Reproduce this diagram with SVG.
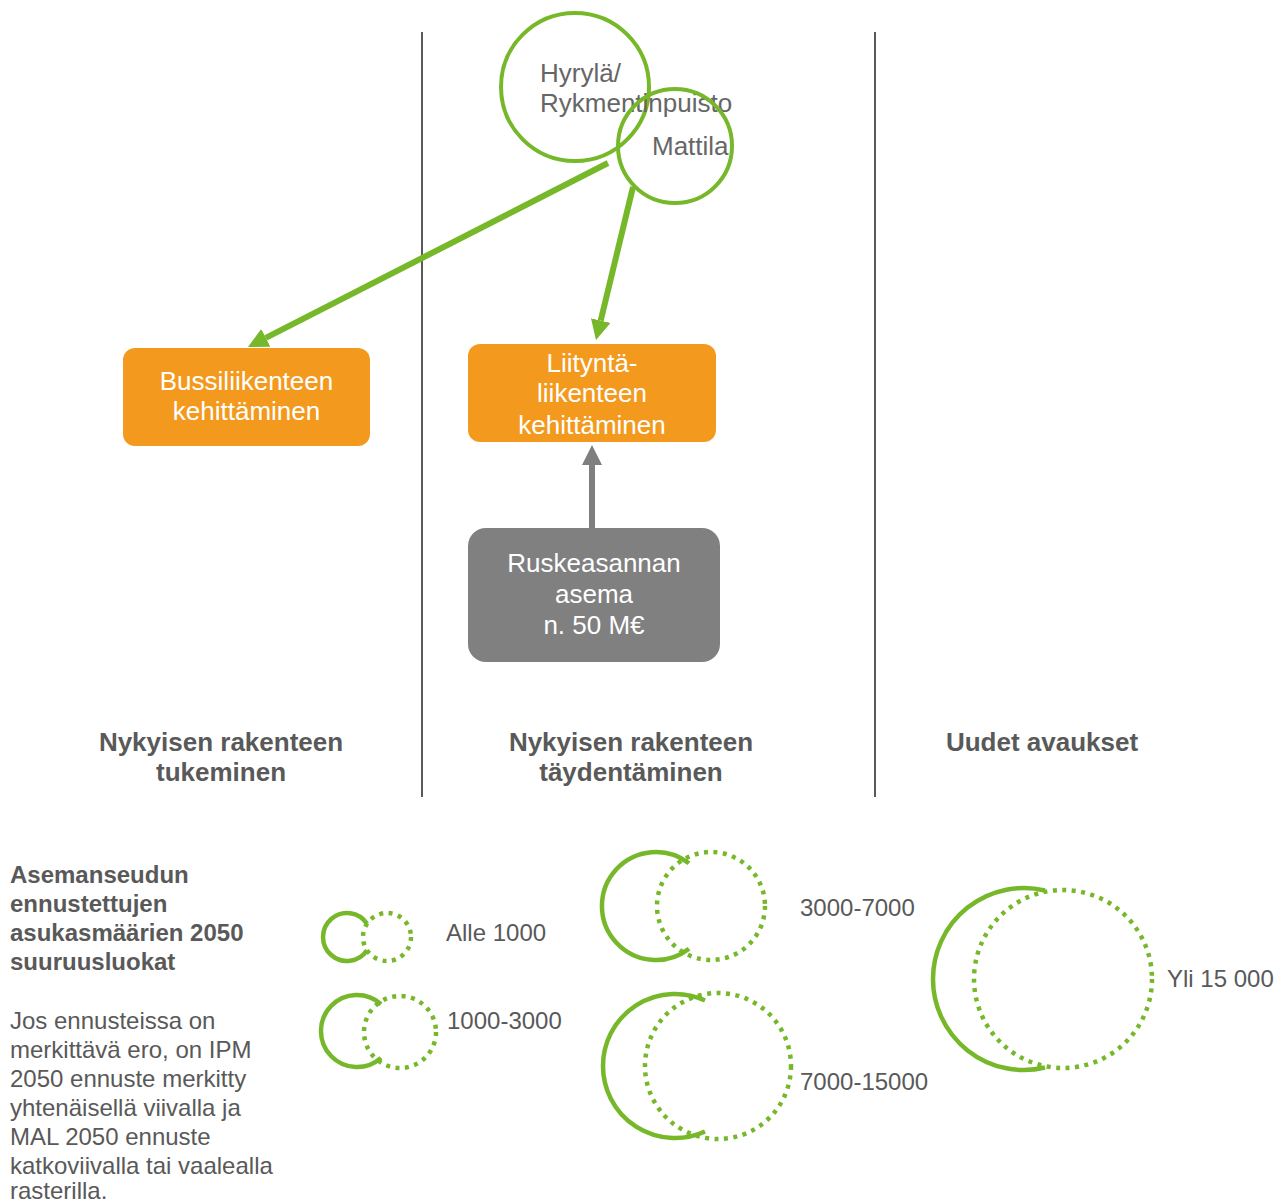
<svg xmlns="http://www.w3.org/2000/svg" width="1288" height="1204" viewBox="0 0 1288 1204">
  <defs>
    <style>
      .t { font-family: "Liberation Sans", Arial, sans-serif; fill: #595959; }
      .b { font-weight: bold; }
      .w { fill: #ffffff; font-family: "Liberation Sans", Arial, sans-serif; font-size: 26px; }
      .sep { stroke: #595959; stroke-width: 2; }
      .ring { fill: none; stroke: #76b82a; stroke-width: 4; }
      .dots { fill: none; stroke: #76b82a; stroke-width: 4.5; stroke-dasharray: 4 5.5; }
      .arc { fill: none; stroke: #76b82a; stroke-width: 4.5; }
      .orange { fill: #f39a1e; }
      .grey { fill: #808080; }
    </style>
    <marker id="headGreen" viewBox="0 0 20 20" markerWidth="20" markerHeight="20" markerUnits="userSpaceOnUse" refX="0" refY="10" orient="auto">
      <path d="M0,0 L20,10 L0,20 Z" fill="#76b82a"/>
    </marker>
    <marker id="headGrey" viewBox="0 0 20 20" markerWidth="20" markerHeight="20" markerUnits="userSpaceOnUse" refX="0" refY="10" orient="auto">
      <path d="M0,0 L20,10 L0,20 Z" fill="#7f7f7f"/>
    </marker>
  </defs>

  <rect width="1288" height="1204" fill="#ffffff"/>

  <!-- column separators -->
  <line class="sep" x1="422" y1="32" x2="422" y2="797"/>
  <line class="sep" x1="875" y1="32" x2="875" y2="797"/>

  <!-- connectors -->
  <g id="connectors">
    <line x1="608" y1="163" x2="265.8" y2="337.9" stroke="#76b82a" stroke-width="6" marker-end="url(#headGreen)"/>
    <line x1="633" y1="187" x2="600.7" y2="320.6" stroke="#76b82a" stroke-width="6" marker-end="url(#headGreen)"/>
    <line x1="592" y1="528" x2="592" y2="465" stroke="#7f7f7f" stroke-width="6" marker-end="url(#headGrey)"/>
  </g>

  <!-- station areas -->
  <g id="node-hyryla">
    <circle class="ring" cx="575" cy="87" r="74"/>
    <text class="t" font-size="26" x="540" y="82" style="fill:#666">Hyrylä/</text>
    <text class="t" font-size="26" x="540" y="112" style="fill:#666">Rykmentinpuisto</text>
  </g>
  <g id="node-mattila">
    <circle class="ring" cx="675" cy="146" r="57"/>
    <text class="t" font-size="26" x="652" y="155" style="fill:#666">Mattila</text>
  </g>

  <!-- measure boxes -->
  <g id="node-bussi">
    <rect class="orange" x="123" y="348" width="247" height="98" rx="12"/>
    <text class="w" x="246.5" y="390" text-anchor="middle">Bussiliikenteen</text>
    <text class="w" x="246.5" y="420" text-anchor="middle">kehittäminen</text>
  </g>
  <g id="node-liitynta">
    <rect class="orange" x="468" y="344" width="248" height="98" rx="12"/>
    <text class="w" x="592" y="372" text-anchor="middle">Liityntä-</text>
    <text class="w" x="592" y="402" text-anchor="middle">liikenteen</text>
    <text class="w" x="592" y="434" text-anchor="middle">kehittäminen</text>
  </g>
  <g id="node-ruskeasanta">
    <rect class="grey" x="468" y="528" width="252" height="134" rx="18"/>
    <text class="w" x="594" y="572" text-anchor="middle">Ruskeasannan</text>
    <text class="w" x="594" y="603" text-anchor="middle">asema</text>
    <text class="w" x="594" y="634" text-anchor="middle">n. 50 M€</text>
  </g>

  <!-- column headings -->
  <g id="headings" class="t b" font-size="26" text-anchor="middle">
    <text x="221" y="751">Nykyisen rakenteen</text>
    <text x="221" y="781">tukeminen</text>
    <text x="631" y="751">Nykyisen rakenteen</text>
    <text x="631" y="781">täydentäminen</text>
    <text x="1042" y="751">Uudet avaukset</text>
  </g>

  <!-- legend text -->
  <g id="legend-text" class="t" font-size="24">
    <text class="b" x="10" y="883">Asemanseudun</text>
    <text class="b" x="10" y="912">ennustettujen</text>
    <text class="b" x="10" y="941">asukasmäärien 2050</text>
    <text class="b" x="10" y="970">suuruusluokat</text>
    <text x="10" y="1029">Jos ennusteissa on</text>
    <text x="10" y="1058">merkittävä ero, on IPM</text>
    <text x="10" y="1087">2050 ennuste merkitty</text>
    <text x="10" y="1116">yhtenäisellä viivalla ja</text>
    <text x="10" y="1145">MAL 2050 ennuste</text>
    <text x="10" y="1174">katkoviivalla tai vaalealla</text>
    <text x="10" y="1199">rasterilla.</text>
  </g>

  <!-- legend symbols: solid arc = IPM 2050, dotted circle = MAL 2050 -->
  <g id="legend-alle1000">
    <path class="arc" d="M367,923.7 A24,24 0 1 0 367,950.3"/>
    <circle class="dots" cx="387" cy="937" r="24"/>
    <text class="t" font-size="24" x="446" y="941">Alle 1000</text>
  </g>
  <g id="legend-1000-3000">
    <path class="arc" d="M381,1004.2 A36,36 0 1 0 381,1057.8"/>
    <circle class="dots" cx="400" cy="1032" r="36"/>
    <text class="t" font-size="24" x="447" y="1029">1000-3000</text>
  </g>
  <g id="legend-3000-7000">
    <path class="arc" d="M689,863.3 A54,54 0 1 0 689,948.7"/>
    <circle class="dots" cx="711" cy="906" r="54"/>
    <text class="t" font-size="24" x="800" y="916">3000-7000</text>
  </g>
  <g id="legend-7000-15000">
    <path class="arc" d="M705,1000.55 A72,72 0 1 0 705,1131.45"/>
    <circle class="dots" cx="718" cy="1066" r="73"/>
    <text class="t" font-size="24" x="800" y="1090">7000-15000</text>
  </g>
  <g id="legend-yli15000">
    <path class="arc" d="M1045,890.46 A91,91 0 1 0 1045,1067.54"/>
    <circle class="dots" cx="1063" cy="979" r="89"/>
    <text class="t" font-size="24" x="1167" y="987">Yli 15 000</text>
  </g>
</svg>
